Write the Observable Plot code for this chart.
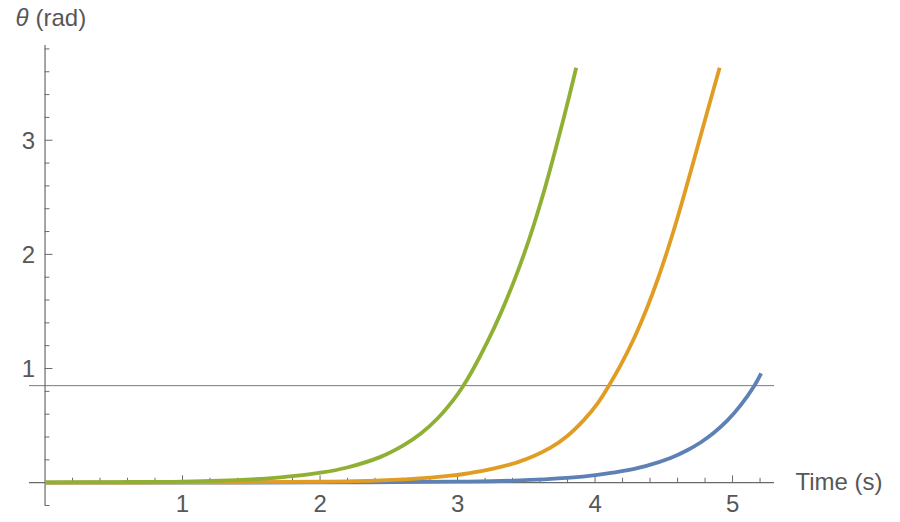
<!DOCTYPE html>
<html><head><meta charset="utf-8">
<script src="https://cdn.jsdelivr.net/npm/d3@7"></script>
<script src="https://cdn.jsdelivr.net/npm/@observablehq/plot@0.6"></script>
<style>body{margin:0;background:#fff}</style>
</head><body><div id="chart"></div>
<script>
// Series data (time in s, angle in rad)
const series1T     = [0, 1.0, 2.0, 3.0, 3.41, 3.821, 4.003, 4.185, 4.367, 4.549, 4.670, 4.767, 4.864, 4.961, 5.058, 5.156, 5.208];
const series1Theta = [0, 0.0005, 0.002, 0.009, 0.018, 0.044, 0.066, 0.098, 0.145, 0.216, 0.284, 0.352, 0.437, 0.543, 0.677, 0.845, 0.958];

const series2T     = [0, 1.0, 2.0, 2.44, 2.803, 2.949, 3.046, 3.191, 3.313, 3.434, 3.555, 3.676, 3.798, 3.918, 4.016, 4.098, 4.185, 4.282, 4.379, 4.452, 4.525, 4.598, 4.670, 4.743, 4.816, 4.906];
const series2Theta = [0, 0.002, 0.008, 0.020, 0.045, 0.061, 0.076, 0.105, 0.138, 0.178, 0.233, 0.306, 0.409, 0.548, 0.690, 0.845, 1.027, 1.261, 1.535, 1.769, 2.030, 2.315, 2.617, 2.932, 3.249, 3.635];

const series3T     = [0, 0.5, 1.0, 1.5, 1.712, 2.003, 2.198, 2.440, 2.609, 2.731, 2.852, 2.973, 3.036, 3.107, 3.216, 3.313, 3.409, 3.482, 3.555, 3.628, 3.700, 3.773, 3.863];
const series3Theta = [0.003, 0.005, 0.010, 0.029, 0.046, 0.087, 0.133, 0.226, 0.329, 0.428, 0.560, 0.730, 0.838, 0.981, 1.231, 1.481, 1.761, 1.998, 2.260, 2.550, 2.865, 3.198, 3.635];

const seriesNames = ["series 1", "series 2", "series 3"];
const seriesColors = ["#5E81B5", "#E19C24", "#8FB032"];

const refLevel = [0.85];

// Ticks and labels
const xMajor = [1, 2, 3, 4, 5];
const xMinor = [0.2, 0.4, 0.6, 0.8, 1.2, 1.4, 1.6, 1.8, 2.2, 2.4, 2.6, 2.8, 3.2, 3.4, 3.6, 3.8, 4.2, 4.4, 4.6, 4.8, 5.2];
const yMajor = [1, 2, 3];
const yMinor = [-0.2, 0.2, 0.4, 0.6, 0.8, 1.2, 1.4, 1.6, 1.8, 2.2, 2.4, 2.6, 2.8, 3.2, 3.4, 3.6, 3.8];
const xDomain = [-0.113, 5.305];
const yDomain = [-0.2, 3.83];
const xTitle = "Time (s)";
const yTitleSymbol = "θ";
const yTitleUnit = "(rad)";

// Build long-form table
function toRows(name, T, V) { return T.map((t, i) => ({series: name, t, theta: V[i]})); }
const rows = [
  ...toRows(seriesNames[0], series1T, series1Theta),
  ...toRows(seriesNames[1], series2T, series2Theta),
  ...toRows(seriesNames[2], series3T, series3Theta)
];

const axisColor = "#6a6a6a";
const textColor = "#575757";
const font = "'Liberation Sans', Arial, Helvetica, sans-serif";
const tickShape = {draw(context, l) { context.moveTo(0, 0); context.lineTo(0, -l); }};

const chart = Plot.plot({
  width: 900,
  height: 522,
  marginLeft: 29,
  marginRight: 126,
  marginTop: 45,
  marginBottom: 17,
  style: {fontFamily: font, background: "#fff", overflow: "visible"},
  x: {domain: xDomain, axis: null},
  y: {domain: yDomain, axis: null},
  color: {domain: seriesNames, range: seriesColors},
  marks: [
    Plot.ruleY(refLevel, {stroke: "#7a7a7a", strokeWidth: 1}),
    Plot.ruleY([0], {stroke: axisColor, strokeWidth: 1.2}),
    Plot.ruleX([0], {stroke: axisColor, strokeWidth: 1.2}),
    Plot.vector(xMajor, {x: d => d, y: 0, length: 7, rotate: 0, anchor: "start", shape: tickShape, stroke: axisColor, strokeWidth: 1}),
    Plot.vector(xMinor, {x: d => d, y: 0, length: 4.5, rotate: 0, anchor: "start", shape: tickShape, stroke: axisColor, strokeWidth: 1}),
    Plot.vector(yMajor, {x: 0, y: d => d, length: 7, rotate: 90, anchor: "start", shape: tickShape, stroke: axisColor, strokeWidth: 1}),
    Plot.vector(yMinor, {x: 0, y: d => d, length: 4, rotate: 90, anchor: "start", shape: tickShape, stroke: axisColor, strokeWidth: 1}),
    Plot.line(rows, {x: "t", y: "theta", z: "series", stroke: "series", strokeWidth: 3.8, curve: "catmull-rom", strokeLinecap: "butt", strokeLinejoin: "round"}),
    Plot.text(xMajor, {x: d => d, y: 0, text: d => String(d), dy: 21.5, fontSize: 24, fill: textColor}),
    Plot.text(yMajor, {x: 0, y: d => d, text: d => String(d), textAnchor: "end", dx: -10, dy: 1, fontSize: 24, fill: textColor}),
    Plot.text([xTitle], {x: xDomain[1], y: 0, text: d => d, textAnchor: "start", dx: 21, dy: 0, fontSize: 24, fill: textColor}),
    Plot.text([yTitleSymbol], {x: 0, y: yDomain[1], text: d => d, textAnchor: "start", dx: -29.5, dy: -27, fontSize: 24, fontStyle: "italic", fill: textColor}),
    Plot.text([yTitleUnit], {x: 0, y: yDomain[1], text: d => d, textAnchor: "start", dx: -9.5, dy: -27, fontSize: 24, fill: textColor})
  ]
});
document.getElementById("chart").appendChild(chart);
</script>
</body></html>
